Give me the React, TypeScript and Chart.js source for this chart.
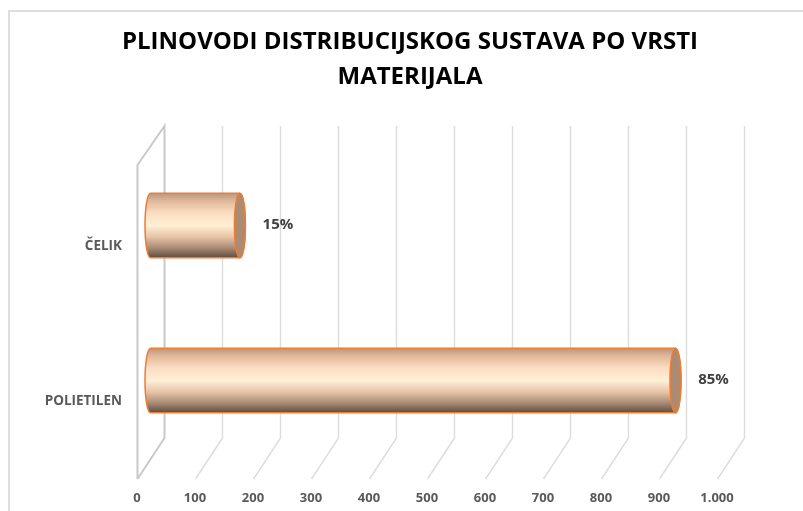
import React, { useEffect, useRef } from "react";
import { Chart, registerables } from "chart.js";

Chart.register(...registerables);

const categories = ["ČELIK", "POLIETILEN"];
const lengths = [155, 906];
const shares = ["15%", "85%"];
const titleLines = ["PLINOVODI DISTRIBUCIJSKOG SUSTAVA PO VRSTI", "MATERIJALA"];
const FONT = "'Open Sans', Lato, sans-serif";
const DX = 27;
const DY = -41;

const wallsPlugin = {
  id: "walls",
  beforeDatasetsDraw(chart: any) {
    const { ctx, scales } = chart;
    const x = scales.x;
    const top = chart.chartArea.top;
    const bottom = chart.chartArea.bottom;
    ctx.save();
    ctx.lineWidth = 1.4;
    ctx.strokeStyle = "#dcdcdc";
    x.ticks.forEach((t: any) => {
      const px = Math.round(x.getPixelForValue(t.value)) + 0.5;
      if (t.value === 0) return;
      ctx.beginPath();
      ctx.moveTo(px, bottom);
      ctx.lineTo(px + DX, bottom + DY);
      ctx.lineTo(px + DX, top + DY - 2);
      ctx.stroke();
    });
    const x0 = Math.round(x.getPixelForValue(0)) + 0.5;
    ctx.lineWidth = 2;
    ctx.strokeStyle = "#c9c9c9";
    ctx.beginPath();
    ctx.moveTo(x0, bottom);
    ctx.lineTo(x0 + DX, bottom + DY);
    ctx.lineTo(x0 + DX, top + DY - 2);
    ctx.lineTo(x0, top - 4);
    ctx.lineTo(x0, bottom);
    ctx.stroke();
    ctx.restore();
  },
};

const cylinderPlugin = {
  id: "cylinder",
  afterDatasetsDraw(chart: any) {
    const { ctx, scales } = chart;
    const meta = chart.getDatasetMeta(0);
    const x0 = scales.x.getPixelForValue(0) + DX / 2;
    ctx.save();
    meta.data.forEach((bar: any, i: number) => {
      const cy = bar.y + DY / 2 - 0.5;
      const h = bar.height;
      const r = h / 2;
      const right = bar.x + DX / 2 - 0.5;
      const rx = 5.5;
      const t = cy - r;
      const b = cy + r;
      const g = ctx.createLinearGradient(0, t, 0, b);
      g.addColorStop(0, "#b89680");
      g.addColorStop(0.12, "#e0b898");
      g.addColorStop(0.3, "#fbdcc0");
      g.addColorStop(0.5, "#fff0d6");
      g.addColorStop(0.68, "#e6c3a5");
      g.addColorStop(0.85, "#a98a75");
      g.addColorStop(1, "#5f4c40");
      ctx.beginPath();
      ctx.moveTo(x0, t);
      ctx.lineTo(right, t);
      ctx.ellipse(right, cy, rx, r, 0, -Math.PI / 2, Math.PI / 2);
      ctx.lineTo(x0, b);
      ctx.ellipse(x0, cy, rx, r, 0, Math.PI / 2, Math.PI * 1.5);
      ctx.closePath();
      ctx.fillStyle = g;
      ctx.fill();
      ctx.lineWidth = 1.5;
      ctx.strokeStyle = "#ed7d31";
      ctx.stroke();
      ctx.beginPath();
      ctx.ellipse(right, cy, rx, r, 0, 0, Math.PI * 2);
      ctx.fillStyle = "#ab8b72";
      ctx.fill();
      ctx.stroke();
      ctx.fillStyle = "#404040";
      ctx.font = `bold 15px ${FONT}`;
      ctx.textAlign = "center";
      ctx.textBaseline = "middle";
      ctx.fillText(shares[i], right + 38, cy - 1);
    });
    ctx.restore();
  },
};

export default function App() {
  const ref = useRef<HTMLCanvasElement>(null);
  useEffect(() => {
    document.body.style.margin = "0";
    const chart = new Chart(ref.current as HTMLCanvasElement, {
      type: "bar",
      data: {
        labels: categories,
        datasets: [
          {
            data: lengths,
            backgroundColor: "rgba(0,0,0,0)",
            borderWidth: 0,
            barPercentage: 0.8,
            categoryPercentage: 0.52,
          },
        ],
      },
      options: {
        indexAxis: "y",
        animation: false,
        responsive: false,
        layout: { padding: { top: 0, left: 17, right: 0, bottom: 0 } },
        plugins: {
          legend: { display: false },
          tooltip: { enabled: false },
          title: {
            display: true,
            text: titleLines,
            color: "#000000",
            font: { family: FONT, size: 24, weight: "bold", lineHeight: 1.458 },
            padding: { top: 25, bottom: 74 },
          },
        },
        scales: {
          x: {
            min: 0,
            max: 1000,
            afterFit(s: any) { s.height = 32; },
            grid: { display: false },
            border: { display: false },
            ticks: {
              stepSize: 100,
              maxRotation: 0,
              color: "#595959",
              padding: 3,
              font: { family: FONT, size: 13, weight: "bold" },
              callback: (v: any) => (v === 1000 ? "1.000" : String(v)),
            },
          },
          y: {
            afterFit(s: any) { s.width = 120; },
            grid: { display: false },
            border: { display: false },
            ticks: {
              color: "#595959",
              padding: 7,
              font: { family: FONT, size: 13.5, weight: "bold" },
            },
          },
          y2: {
            type: "linear",
            position: "right",
            afterFit(s: any) { s.width = 86; },
            grid: { display: false },
            border: { display: false },
            ticks: { display: false },
          },
        },
      } as any,
      plugins: [wallsPlugin, cylinderPlugin],
    });
    return () => chart.destroy();
  }, []);
  return (
    <div style={{ position: "relative", width: 803, height: 511, background: "#fff", overflow: "hidden" }}>
      <canvas ref={ref} width={803} height={511} style={{ display: "block" }} />
      <div style={{ position: "absolute", left: 8, top: 10, width: 900, height: 600, border: "2px solid #dedede", boxSizing: "border-box", pointerEvents: "none" }} />
    </div>
  );
}
